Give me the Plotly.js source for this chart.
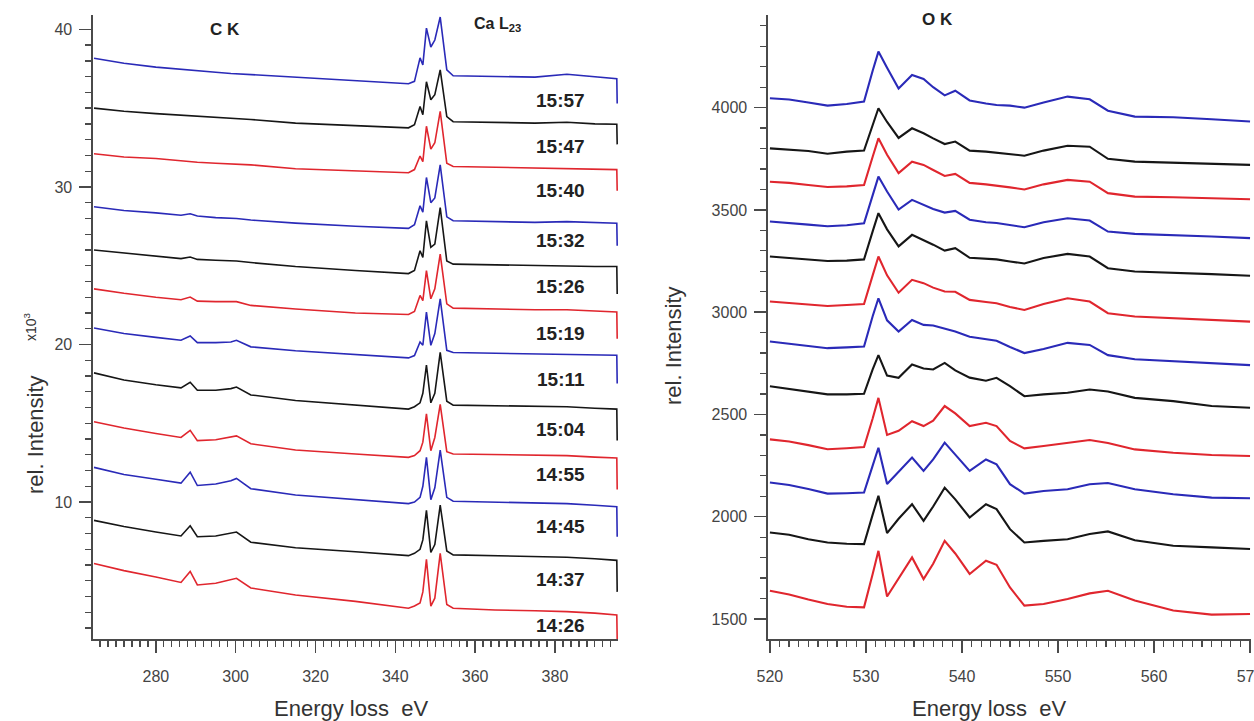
<!DOCTYPE html>
<html>
<head>
<meta charset="utf-8">
<script src="https://cdn.plot.ly/plotly-3.0.1.min.js"></script>
<style>html,body{margin:0;padding:0;background:#fff}#chart{width:1254px;height:721px}</style>
</head>
<body>
<div id="chart"></div>
<script>
// ---------- Left panel: C K / Ca L23 spectra (rel. intensity x10^3) ----------
const timeLabels = ['15:57','15:47','15:40','15:32','15:26','15:19','15:11','15:04','14:55','14:45','14:37','14:26'];
const timeLabelY = [35.5, 32.55, 29.76, 26.6, 23.65, 20.7, 17.75, 14.62, 11.72, 8.48, 5.06, 2.14];

const leftEnergy = [264.5, 272, 280, 286.3, 288.6, 290.4, 295, 298.8, 300.2, 303.8, 315, 330, 343.3, 344.8, 346.2, 346.9, 347.8, 348.9, 349.9, 351.25, 352.9, 354.5, 365, 375, 383, 390, 395.5, 395.6];
const leftTicks = [280, 300, 320, 340, 360, 380];
const leftYTicks = [10, 20, 30, 40];

const left_1557 = [38.17, 37.85, 37.6, 37.45, 37.4, 37.35, 37.28, 37.2, 37.18, 37.12, 36.92, 36.72, 36.55, 36.7, 38.19, 37.74, 40.08, 38.88, 39.32, 40.78, 37.43, 37.05, 37.0, 36.97, 37.15, 37.0, 36.86, 35.3];
const left_1547 = [35.0, 34.8, 34.65, 34.55, 34.5, 34.48, 34.4, 34.35, 34.33, 34.28, 34.05, 33.9, 33.75, 33.95, 35.1, 34.58, 36.67, 35.53, 35.85, 37.43, 34.46, 34.14, 34.1, 34.05, 34.1, 34.0, 33.98, 32.7];
const left_1540 = [32.1, 31.9, 31.8, 31.65, 31.6, 31.57, 31.5, 31.46, 31.45, 31.4, 31.15, 31.0, 30.9, 31.1, 31.96, 31.6, 33.85, 32.4, 32.8, 34.8, 31.5, 31.3, 31.25, 31.2, 31.2, 31.15, 31.1, 29.75];
const left_1532 = [28.74, 28.5, 28.35, 28.2, 28.3, 28.15, 28.05, 28.0, 28.0, 27.9, 27.7, 27.5, 27.37, 27.6, 28.8, 28.4, 30.6, 29.0, 29.3, 31.4, 28.1, 27.85, 27.8, 27.75, 27.8, 27.75, 27.7, 26.27];
const left_1526 = [26.0, 25.8, 25.62, 25.45, 25.55, 25.4, 25.35, 25.3, 25.3, 25.2, 24.95, 24.7, 24.5, 24.7, 25.95, 25.53, 27.85, 26.17, 26.37, 28.69, 25.3, 25.1, 25.05, 25.0, 25.0, 24.95, 24.95, 23.2];
const left_1519 = [23.53, 23.25, 23.0, 22.84, 23.01, 22.75, 22.72, 22.69, 22.72, 22.48, 22.25, 22.0, 21.9, 22.1, 23.11, 22.79, 24.69, 22.9, 23.53, 25.74, 22.58, 22.31, 22.25, 22.2, 22.2, 22.1, 22.06, 20.37];
const left_1511 = [21.05, 20.7, 20.45, 20.27, 20.54, 20.12, 20.12, 20.16, 20.27, 19.85, 19.6, 19.35, 19.15, 19.3, 20.16, 19.95, 22.06, 19.95, 20.69, 22.9, 19.63, 19.49, 19.45, 19.4, 19.4, 19.35, 19.32, 17.53];
const left_1504 = [18.2, 17.75, 17.45, 17.25, 17.6, 17.1, 17.1, 17.2, 17.3, 16.8, 16.45, 16.15, 15.9, 16.05, 16.3, 16.9, 18.7, 16.3, 16.9, 19.5, 16.4, 16.15, 16.1, 16.05, 16.05, 15.95, 15.9, 13.9];
const left_1455 = [15.1, 14.7, 14.35, 14.1, 14.55, 13.9, 13.95, 14.1, 14.2, 13.7, 13.3, 13.05, 12.84, 12.95, 13.26, 13.8, 15.6, 13.26, 14.1, 16.2, 13.2, 13.05, 13.0, 12.95, 12.95, 12.85, 12.8, 10.8];
const left_1445 = [12.2, 11.75, 11.45, 11.2, 11.9, 11.05, 11.15, 11.35, 11.5, 10.85, 10.45, 10.15, 9.9, 10.0, 10.3, 11.0, 12.84, 10.15, 10.9, 13.3, 10.3, 10.05, 10.0, 9.95, 9.9, 9.8, 9.7, 7.8];
const left_1437 = [8.84, 8.45, 8.1, 7.85, 8.5, 7.8, 7.85, 8.0, 8.1, 7.45, 7.1, 6.85, 6.6, 6.75, 7.0, 7.6, 9.47, 6.8, 7.3, 9.8, 6.9, 6.65, 6.6, 6.55, 6.5, 6.4, 6.3, 4.3];
const left_1426 = [6.1, 5.65, 5.25, 4.9, 5.6, 4.74, 4.85, 5.05, 5.16, 4.55, 4.1, 3.7, 3.26, 3.4, 3.6, 4.3, 6.36, 3.4, 3.9, 6.74, 3.5, 3.26, 3.15, 3.1, 3.05, 2.95, 2.84, 1.26];

// ---------- Right panel: O K spectra ----------
const rightEnergy = [520, 522, 524, 526, 528, 529.8, 530.7, 531.3, 532.2, 533.4, 534.8, 536.0, 537.0, 538.2, 539.3, 540.8, 542.5, 543.6, 545, 546.5, 548.5, 551, 553.3, 555.2, 558, 562, 566, 570];
const rightTicks = [520, 530, 540, 550, 560, 570];
const rightYTicks = [1500, 2000, 2500, 3000, 3500, 4000];

const ok_1557 = [4046, 4040, 4025, 4010, 4018, 4030, 4180, 4274, 4195, 4094, 4160, 4140, 4100, 4060, 4083, 4035, 4020, 4013, 4010, 4000, 4025, 4054, 4041, 3985, 3956, 3953, 3943, 3932];
const ok_1547 = [3801, 3795, 3788, 3775, 3785, 3790, 3920, 3997, 3930, 3852, 3899, 3875, 3850, 3822, 3834, 3790, 3785, 3780, 3775, 3765, 3790, 3814, 3809, 3750, 3736, 3731, 3725, 3720];
const ok_1540 = [3638, 3632, 3622, 3612, 3615, 3622, 3760, 3850, 3770, 3680, 3736, 3720, 3695, 3666, 3676, 3632, 3625, 3620, 3610, 3600, 3625, 3647, 3638, 3582, 3565, 3562, 3556, 3552];
const ok_1532 = [3443, 3437, 3428, 3420, 3425, 3435, 3570, 3663, 3590, 3502, 3549, 3524, 3505, 3487, 3495, 3452, 3440, 3436, 3425, 3415, 3440, 3459, 3448, 3394, 3383, 3378, 3370, 3362];
const ok_1526 = [3272, 3265, 3258, 3250, 3252, 3258, 3395, 3484, 3405, 3322, 3378, 3353, 3330, 3301, 3313, 3266, 3262, 3258, 3248, 3238, 3265, 3285, 3272, 3215, 3199, 3194, 3186, 3178];
const ok_1519 = [3052, 3045, 3036, 3030, 3035, 3040, 3180, 3272, 3180, 3095, 3158, 3142, 3120, 3101, 3100, 3060, 3050, 3044, 3025, 3011, 3040, 3068, 3052, 2995, 2979, 2971, 2962, 2954];
const ok_1511 = [2857, 2845, 2835, 2824, 2828, 2832, 2980, 3068, 2960, 2905, 2962, 2938, 2935, 2920, 2905, 2880, 2870, 2860, 2830, 2800, 2820, 2850, 2840, 2790, 2770, 2760, 2750, 2741];
const ok_1504 = [2638, 2625, 2610, 2598, 2598, 2601, 2720, 2790, 2690, 2679, 2744, 2725, 2720, 2752, 2715, 2680, 2665, 2679, 2638, 2589, 2598, 2606, 2622, 2612, 2581, 2565, 2541, 2533];
const ok_1455 = [2378, 2368, 2350, 2330, 2335, 2341, 2480, 2581, 2400, 2420, 2467, 2443, 2470, 2541, 2505, 2443, 2459, 2443, 2370, 2334, 2346, 2362, 2375, 2360, 2329, 2313, 2302, 2297];
const ok_1445 = [2167, 2155, 2135, 2113, 2115, 2118, 2250, 2337, 2160, 2220, 2289, 2224, 2280, 2362, 2305, 2224, 2280, 2256, 2159, 2113, 2126, 2134, 2159, 2165, 2134, 2110, 2093, 2090];
const ok_1437 = [1923, 1912, 1890, 1874, 1868, 1866, 2010, 2102, 1920, 1990, 2061, 1980, 2050, 2142, 2085, 1996, 2061, 2037, 1939, 1874, 1882, 1890, 1915, 1928, 1885, 1858, 1850, 1842];
const ok_1426 = [1638, 1620, 1595, 1573, 1560, 1557, 1720, 1833, 1610, 1700, 1801, 1695, 1770, 1882, 1820, 1720, 1785, 1765, 1654, 1565, 1573, 1598, 1625, 1638, 1590, 1541, 1521, 1524];

const leftSeries = [left_1557, left_1547, left_1540, left_1532, left_1526, left_1519, left_1511, left_1504, left_1455, left_1445, left_1437, left_1426];
const rightSeries = [ok_1557, ok_1547, ok_1540, ok_1532, ok_1526, ok_1519, ok_1511, ok_1504, ok_1455, ok_1445, ok_1437, ok_1426];
const palette = ['#2a2ab8', '#161616', '#e0262e'];

const traces = [];
leftSeries.forEach((ys, i) => {
  traces.push({x: leftEnergy, y: ys, type: 'scatter', mode: 'lines', xaxis: 'x', yaxis: 'y',
    line: {color: palette[i % 3], width: 1.6}, name: timeLabels[i], showlegend: false, hoverinfo: 'skip'});
});
rightSeries.forEach((ys, i) => {
  traces.push({x: rightEnergy, y: ys, type: 'scatter', mode: 'lines', xaxis: 'x2', yaxis: 'y2',
    line: {color: palette[i % 3], width: 2.1}, name: timeLabels[i], showlegend: false, hoverinfo: 'skip'});
});

const W = 1254, H = 721;
const font = 'Arial, "Liberation Sans", sans-serif';
const axCol = '#4a4a4a';
const tickFont = {family: font, size: 16, color: '#444'};
function axisBase(extra) {
  return Object.assign({
    showline: true, linecolor: axCol, linewidth: 1.6, mirror: false,
    showgrid: false, zeroline: false, ticks: 'outside', ticklen: 12, tickwidth: 1.5, tickcolor: axCol,
    tickfont: tickFont, fixedrange: true, tickmode: 'array', ticklabeloverflow: 'allow'
  }, extra);
}
const yDom = [1 - 639 / H, 1 - 15 / H];
const minorStyle = {ticks: 'outside', ticklen: 6, tickwidth: 1.3, tickcolor: axCol};

function ann(o) {
  return Object.assign({showarrow: false, xanchor: 'center', yanchor: 'middle'}, o);
}
const annotations = [];
timeLabels.forEach((t, i) => {
  annotations.push(ann({x: 381.5, y: timeLabelY[i], xref: 'x', yref: 'y', text: t,
    font: {family: font, size: 19, color: '#222', weight: 'bold'}}));
});
annotations.push(
  ann({x: 297.3, y: 40.0, xref: 'x', yref: 'y', text: 'C K', font: {family: font, size: 17, color: '#222', weight: 'bold'}}),
  ann({x: 365.5, y: 40.3, xref: 'x', yref: 'y', text: 'Ca L<sub>23</sub>', font: {family: font, size: 16, color: '#222', weight: 'bold'}}),
  ann({x: 537.4, y: 4429, xref: 'x2', yref: 'y2', text: 'O K', font: {family: font, size: 17, color: '#222', weight: 'bold'}}),
  ann({x: 36 / W, y: 1 - 435 / H, xref: 'paper', yref: 'paper', text: 'rel. Intensity', textangle: -90, font: {family: font, size: 22, color: '#333'}}),
  ann({x: 30 / W, y: 1 - 327 / H, xref: 'paper', yref: 'paper', text: 'x10<sup>3</sup>', textangle: -90, font: {family: font, size: 14, color: '#333'}}),
  ann({x: 673 / W, y: 1 - 346 / H, xref: 'paper', yref: 'paper', text: 'rel. Intensity', textangle: -90, font: {family: font, size: 22, color: '#333'}}),
  ann({x: 351 / W, y: 1 - 708 / H, xref: 'paper', yref: 'paper', text: 'Energy loss\u00a0 eV', font: {family: font, size: 22, color: '#333'}}),
  ann({x: 989 / W, y: 1 - 708 / H, xref: 'paper', yref: 'paper', text: 'Energy loss\u00a0 eV', font: {family: font, size: 22, color: '#333'}})
);

const layout = {
  width: W, height: H, margin: {l: 0, r: 0, t: 0, b: 0},
  paper_bgcolor: '#fff', plot_bgcolor: 'rgba(0,0,0,0)', showlegend: false,
  xaxis: axisBase({domain: [93 / W, 618 / W], range: [264.25, 395.8], tickvals: leftTicks, ticklabelstandoff: 10,
    minor: Object.assign({dtick: 2, tick0: 0}, minorStyle), anchor: 'y'}),
  yaxis: axisBase({domain: yDom, range: [1.31, 40.91], tickvals: leftYTicks, ticklabelstandoff: 4,
    minor: Object.assign({dtick: 1, tick0: 0}, minorStyle), anchor: 'x'}),
  xaxis2: axisBase({domain: [768 / W, 1251 / W], range: [519.8, 570.1], tickvals: rightTicks, ticklabelstandoff: 10,
    minor: Object.assign({dtick: 1, tick0: 0}, minorStyle), anchor: 'y2'}),
  yaxis2: axisBase({domain: yDom, range: [1402, 4453], tickvals: rightYTicks, ticklabelstandoff: 4,
    minor: Object.assign({dtick: 100, tick0: 0}, minorStyle), anchor: 'x2'}),
  annotations: annotations
};

Plotly.newPlot('chart', traces, layout, {staticPlot: true, displayModeBar: false});
</script>
</body>
</html>
